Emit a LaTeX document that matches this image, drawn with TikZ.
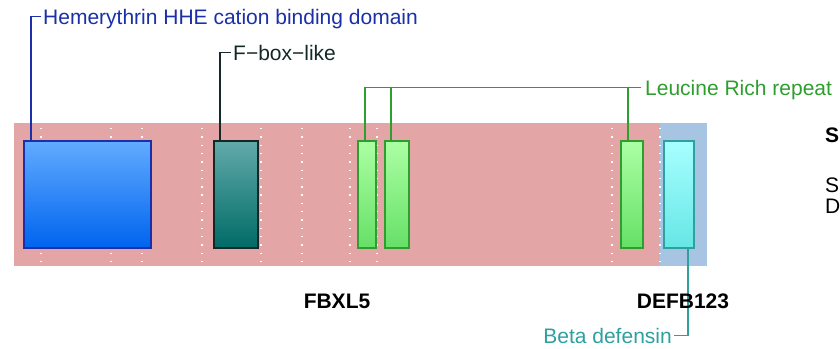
\documentclass[tikz,border=0pt]{standalone}
\usepackage{fontspec}
\setmainfont{Liberation Sans}
\usetikzlibrary{positioning}
\definecolor{pinkband}{HTML}{E3A5A5}
\definecolor{blueband}{HTML}{A8C4E3}
\definecolor{hheline}{HTML}{1A2FA8}
\definecolor{hhetop}{HTML}{62ABFF}
\definecolor{hhebot}{HTML}{0064EE}
\definecolor{fboxline}{HTML}{142828}
\definecolor{fboxtop}{HTML}{62AAAA}
\definecolor{fboxbot}{HTML}{006B66}
\definecolor{lrrline}{HTML}{2E9E2E}
\definecolor{lrrtop}{HTML}{ACFFA4}
\definecolor{lrrbot}{HTML}{66E066}
\definecolor{betaline}{HTML}{2EA0A0}
\definecolor{betatop}{HTML}{A8FFFF}
\definecolor{betabot}{HTML}{66E6E6}

\begin{document}
\begin{tikzpicture}[
  x=1pt, y=-1pt,
  domain/.style n args={3}{
    draw=#1, line width=1.6pt, top color=#2, bottom color=#3,
    anchor=north west, inner sep=0pt, minimum height=107pt
  },
  dlabel/.style={
    font=\fontsize{21}{25}\selectfont, inner sep=0pt, anchor=base west
  },
  gene/.style={
    font=\fontsize{21}{25}\selectfont\bfseries, inner sep=0pt, anchor=base
  },
  link/.style={line width=1.8pt, #1},
  sitegap/.style={white, line width=1.4pt, dash pattern=on 1.4pt off 6.9pt},
]

\useasboundingbox (0,0) rectangle (840,348);

% ============================================================
% Sequence bands
% ============================================================
\fill[pinkband] (14,123) rectangle (660,266);
\fill[blueband] (660,123) rectangle (707,266);

% dotted marks across the bands
\foreach \sx in {41,111,142,202,261,302,350,377,612,660}
  \draw[sitegap] (\sx,128) -- (\sx,264);

% ============================================================
% Domains
% ============================================================
\node[domain={hheline}{hhetop}{hhebot}, minimum width=127pt] (hhe) at (23,140) {};
\node[domain={fboxline}{fboxtop}{fboxbot}, minimum width=44pt] (fbox) at (213,140) {};
\node[domain={lrrline}{lrrtop}{lrrbot}, minimum width=18pt] (lrr1) at (357,140) {};
\node[domain={lrrline}{lrrtop}{lrrbot}, minimum width=24pt] (lrr2) at (384,140) {};
\node[domain={lrrline}{lrrtop}{lrrbot}, minimum width=22pt] (lrr3) at (620,140) {};
\node[domain={betaline}{betatop}{betabot}, minimum width=30pt] (beta) at (663,140) {};

% ============================================================
% Domain labels
% ============================================================
\node[dlabel, text=hheline] (hhe-lbl) at (43,24)
  {Hemerythrin HHE cation binding domain};
\node[dlabel, text=fboxline] (fbox-lbl) at (233,60) {F−box−like};
\node[dlabel, text=lrrline] (lrr-lbl) at (645,95) {Leucine Rich repeat};
\node[dlabel, anchor=base east, text=betaline] (beta-lbl) at (672,343)
  {Beta defensin};

% --- connectors ---
\draw[link=hheline] ([xshift=8pt]hhe.north west)
  |- ([xshift=-2pt, yshift=7.5pt]hhe-lbl.base west);
\draw[link=fboxline] ([xshift=7pt]fbox.north west)
  |- ([xshift=-2pt, yshift=7.5pt]fbox-lbl.base west);
\coordinate (lrr-end) at ([xshift=-4pt, yshift=7.5pt]lrr-lbl.base west);
\draw[link=lrrline] ([xshift=8pt]lrr1.north west) |- (lrr-end);
\draw[link=lrrline] ([xshift=7pt]lrr2.north west) -- ([xshift=7pt]lrr2.north west |- lrr-end);
\draw[link=lrrline] ([xshift=8pt]lrr3.north west) -- ([xshift=8pt]lrr3.north west |- lrr-end);
\draw[link=betaline] ([xshift=-7pt]beta.south east)
  |- ([xshift=2pt, yshift=7.5pt]beta-lbl.base east);

% ============================================================
% Gene names and side text
% ============================================================
\node[gene] (fbxl5) at (337,308) {FBXL5};
\node[gene] (defb123) at (683,308) {DEFB123};

\node[gene, anchor=base west] (side-title) at (825,142) {S};
\node[dlabel] (side-a) at (825,192) {S};
\node[dlabel] (side-b) at (825,213) {D};

\end{tikzpicture}
\end{document}
